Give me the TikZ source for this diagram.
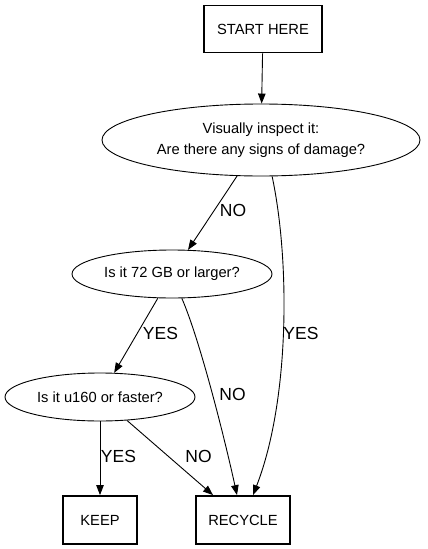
\documentclass[tikz,border=0pt]{standalone}
\usepackage{fontspec}
\setmainfont{Liberation Sans}
\usetikzlibrary{shapes.geometric,arrows.meta}
\tikzset{
  boxnode/.style={draw, line width=1.8pt, rectangle, inner sep=0pt, font=\fontsize{14.7}{18}\selectfont},
  ellnode/.style={draw, line width=0.9pt, ellipse, inner sep=0pt, align=center, font=\fontsize{14.7}{21}\selectfont},
  edge/.style={draw, line width=0.9pt, -{Triangle[length=10pt,width=7.5pt]}},
  lbl/.style={font=\fontsize{17.5}{20}\selectfont, inner sep=0pt}
}
\begin{document}
\begin{tikzpicture}[x=1pt,y=-1pt]
\fill[white] (0,0) rectangle (428,549);
\useasboundingbox (0,0) rectangle (428,549);
\node[boxnode, minimum width=118pt, minimum height=47pt] (start) at (263,29) {START HERE};
\node[ellnode, minimum width=318pt, minimum height=72pt] (e1) at (261,140) {Visually inspect it:\\Are there any signs of damage?};
\node[ellnode, minimum width=200pt, minimum height=48pt] (e2) at (172,274) {Is it 72 GB or larger?};
\node[ellnode, minimum width=190pt, minimum height=48pt] (e3) at (100,397) {Is it u160 or faster?};
\node[boxnode, minimum width=74pt, minimum height=48pt] (keep) at (100,520) {KEEP};
\node[boxnode, minimum width=94pt, minimum height=48pt] (rec) at (243,520) {RECYCLE};

\draw[edge] (start) -- (e1);
\draw[edge] (e1) -- (e2);
\draw[edge] (e2) -- (e3);
\draw[edge] (e3) -- (keep);
\draw[edge] (e3) -- ([xshift=-30pt]rec.north);
\draw[edge] (e2.-68) .. controls (200,340) and (225,440) .. ([xshift=-6pt]rec.north);
\draw[edge] (e1.-73) .. controls (290,260) and (290,400) .. ([xshift=10pt]rec.north);

\node[lbl] (l1) at (233,210) {NO};
\node[lbl] (l2) at (160.5,333.5) {YES};
\node[lbl] (l3) at (301,333.5) {YES};
\node[lbl] (l4) at (232.5,394.5) {NO};
\node[lbl] (l5) at (118.5,456) {YES};
\node[lbl] (l6) at (198.5,456) {NO};
\end{tikzpicture}
\end{document}
